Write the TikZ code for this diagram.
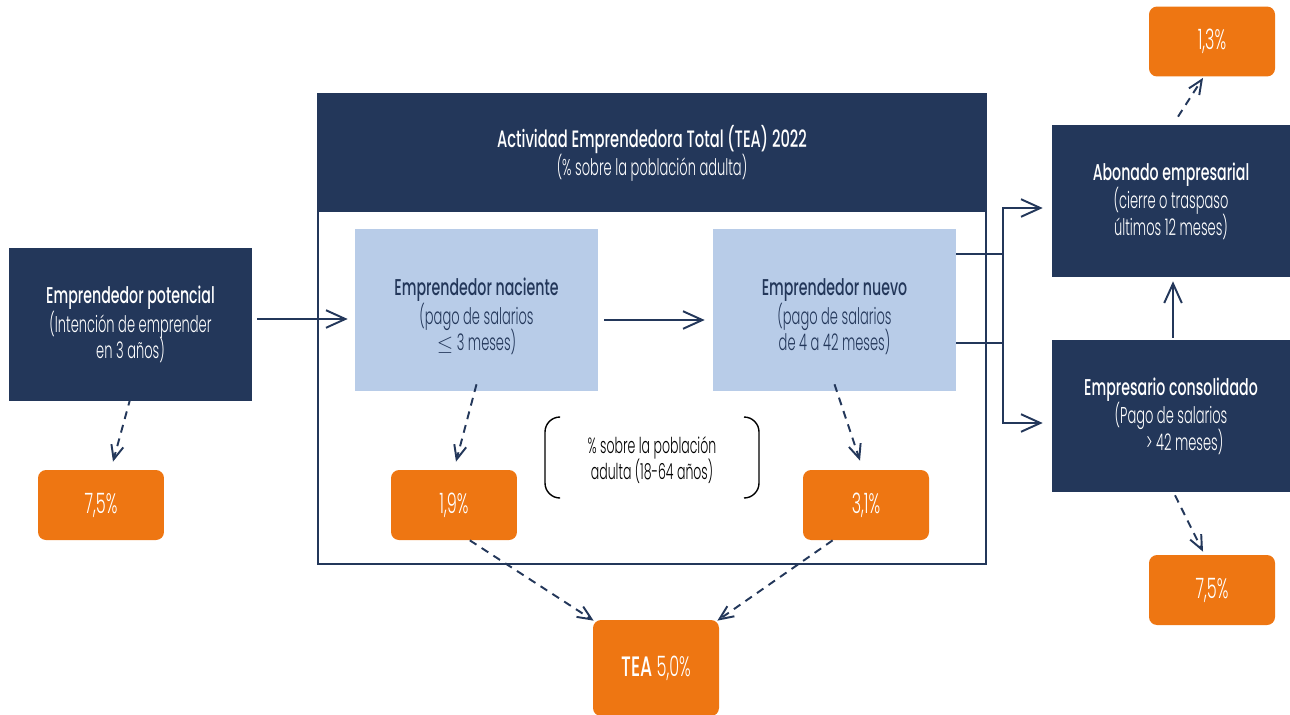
\documentclass[tikz,border=0pt]{standalone}
\usepackage{fontspec}
\setmainfont{Poppins}[FakeStretch=0.62,BoldFont={Poppins Medium}]
\newfontfamily\ligera{Poppins Light}[FakeStretch=0.57]
\usetikzlibrary{arrows.meta,calc}
\definecolor{azul}{HTML}{23375A}
\definecolor{celeste}{HTML}{B8CCE8}
\definecolor{naranja}{HTML}{EE7612}
\def\tit#1{{\normalfont\bfseries #1}}
\def\apretado{\lineskiplimit=-20pt\relax\lineskip=0pt\relax}

\begin{document}
\begin{tikzpicture}[x=0.02cm, y=-0.02cm,
	caja/.style={inner sep=0pt, align=center, font=\ligera\fontsize{13}{15}\selectfont\apretado},
	oscuro/.style={caja, fill=azul, text=white},
	claro/.style={caja, fill=celeste, text=azul, minimum width=4.86cm, minimum height=3.24cm},
	cifra/.style={caja, fill=naranja, text=white, rounded corners=0.16cm, minimum width=2.52cm, minimum height=1.4cm, font=\ligera\fontsize{16}{18}\selectfont},
	flecha/.style={draw=azul, line width=1.1pt, -{Straight Barb[length=11pt,width=10pt]}},
	punteada/.style={draw=azul, line width=1.1pt, dash pattern=on 4.5pt off 3.5pt, -{Straight Barb[length=8pt,width=7pt]}},
	corchete/.style={draw=black, line width=0.8pt, rounded corners=0.3cm}]
	%%%%% START %%%%%
	\useasboundingbox (0,0) rectangle (1290,714);
	
	% TEA marco
	\draw[azul, line width=1.1pt] (318,94) rectangle (986,564);
	\fill[azul] (318,94) rectangle (986,212);
	\node[caja, text=white] (cab) at (652,153) {{\normalfont\bfseries\fontsize{13.5}{15}\selectfont Actividad Emprendedora Total (TEA) 2022}\\[1pt](\% sobre la población adulta)};
	
	\node[oscuro, minimum width=4.86cm, minimum height=3.06cm] (pot) at (130.5,324.5) {\tit{Emprendedor potencial}\\[1.5pt](Intención de emprender\\en 3 años)};
	\node[claro, label={[caja, text=azul, yshift=-0.13cm]center:{\tit{Emprendedor naciente}\\[1.5pt](pago de salarios\\$\leq$ 3 meses)}}] (nac) at (476.5,310) {};
	\node[claro, label={[caja, text=azul, yshift=-0.13cm]center:{\tit{Emprendedor nuevo}\\[1.5pt](pago de salarios\\de 4 a 42 meses)}}] (nue) at (834.5,310) {};
	\node[oscuro, minimum width=4.76cm, minimum height=3.04cm] (abo) at (1171,201) {\tit{Abonado empresarial}\\[1.5pt](cierre o traspaso\\últimos 12 meses)};
	\node[oscuro, minimum width=4.76cm, minimum height=3.04cm] (con) at (1171,416) {\tit{Empresario consolidado}\\[1.5pt](Pago de salarios\\\hspace*{1.2em}> 42 meses)};
	
	\node[cifra] (pot75) at (101,505) {7,5\%};
	\node[cifra] (nac19) at (454,505) {1,9\%};
	\node[cifra] (nue31) at (866,505) {3,1\%};
	\node[cifra] (abo13) at (1212,41.5) {1,3\%};
	\node[cifra] (con75) at (1212,590) {7,5\%};
	\node[cifra, minimum height=1.92cm, font=\ligera\fontsize{16}{18}\selectfont] (tea) at (656,668) {\tit{TEA} 5,0\%};
	
	\node[caja, text=black, font=\ligera\fontsize{12.5}{15}\selectfont\apretado] (nota) at (652,460) {\% sobre la población\\adulta (18-64 años)};
	\draw[corchete] (560,417) -- (545,417) -- (545,498) -- (560,498);
	\draw[corchete] (744,417) -- (759,417) -- (759,498) -- (744,498);
	
	% flechas
	\draw[flecha] ([shift={(5,-5.5)}]pot.east) -- ([shift={(-7,-5.5)}]pot.east -| nac.west);
	\draw[flecha] ([shift={(6,10)}]nac.east) -- ([shift={(-8,10)}]nue.west);
	\draw[flecha] ([yshift=-19]nue.east) -- ++(47,0) |- ([shift={(-9,7)}]abo.west);
	\draw[flecha] ([yshift=32]nue.east) -- ++(47,0) |- ([shift={(-9,7)}]con.west);
	\draw[flecha] ([shift={(2,-2)}]con.north) -- ([shift={(2,4)}]abo.south);
	
	\draw[punteada] ([yshift=2]pot.south) -- ([shift={(12,-8)}]pot75.north);
	\draw[punteada] ([yshift=4]nac.south) -- ([shift={(2,-8)}]nac19.north);
	\draw[punteada] ([yshift=4]nue.south) -- ([shift={(-6,-9)}]nue31.north);
	\draw[punteada] ([xshift=9]nac19.south) -- ([shift={(1,1)}]tea.north west);
	\draw[punteada] ([xshift=-19]nue31.south) -- ([shift={(-2,1)}]tea.north east);
	\draw[punteada] ([shift={(7,-8)}]abo.north) -- ([shift={(-9,1)}]abo13.south);
	\draw[punteada] ([shift={(4,3)}]con.south) -- ([shift={(-9,-3)}]con75.north);
	%%%%% END %%%%%
\end{tikzpicture}
\end{document}
